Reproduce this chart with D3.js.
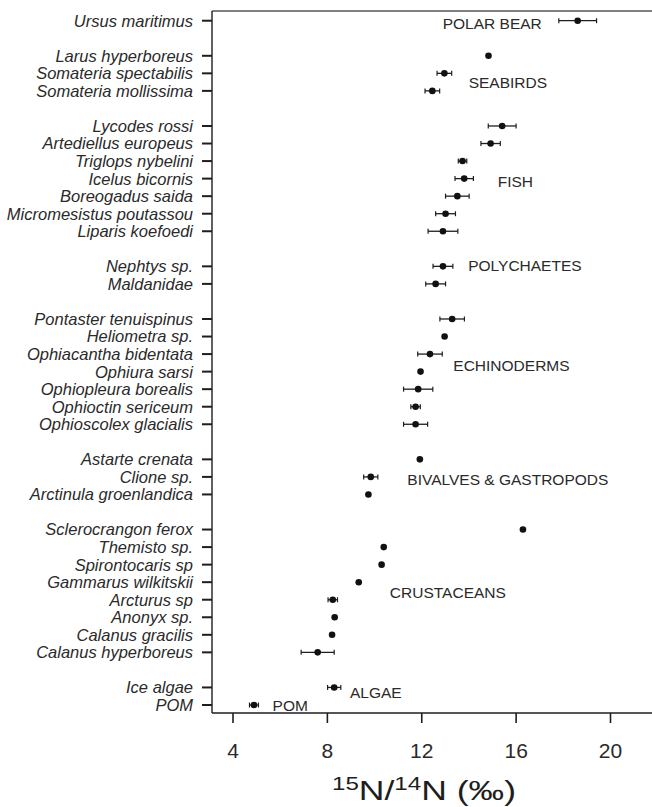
<!DOCTYPE html>
<html>
<head>
<meta charset="utf-8">
<script src="https://cdn.jsdelivr.net/npm/d3@7/dist/d3.min.js"></script>
<style>
html,body{margin:0;padding:0;background:#fff;}
svg{display:block;}
</style>
</head>
<body>
<svg id="chart" width="652" height="807"></svg>
<script>
// ---------- DATA ----------
const species = [
  "Ursus maritimus",
  "Larus hyperboreus","Somateria spectabilis","Somateria mollissima",
  "Lycodes rossi","Artediellus europeus","Triglops nybelini","Icelus bicornis","Boreogadus saida","Micromesistus poutassou","Liparis koefoedi",
  "Nephtys sp.","Maldanidae",
  "Pontaster tenuispinus","Heliometra sp.","Ophiacantha bidentata","Ophiura sarsi","Ophiopleura borealis","Ophioctin sericeum","Ophioscolex glacialis",
  "Astarte crenata","Clione sp.","Arctinula groenlandica",
  "Sclerocrangon ferox","Themisto sp.","Spirontocaris sp","Gammarus wilkitskii","Arcturus sp","Anonyx sp.","Calanus gracilis","Calanus hyperboreus",
  "Ice algae","POM"
];
// blocks of rows (a blank row separates consecutive blocks)
const block = [
  "POLAR BEAR",
  "SEABIRDS","SEABIRDS","SEABIRDS",
  "FISH","FISH","FISH","FISH","FISH","FISH","FISH",
  "POLYCHAETES","POLYCHAETES",
  "ECHINODERMS","ECHINODERMS","ECHINODERMS","ECHINODERMS","ECHINODERMS","ECHINODERMS","ECHINODERMS",
  "BIVALVES","BIVALVES","BIVALVES",
  "CRUSTACEANS","CRUSTACEANS","CRUSTACEANS","CRUSTACEANS","CRUSTACEANS","CRUSTACEANS","CRUSTACEANS","CRUSTACEANS",
  "BASE","BASE"
];
const delta15N = [
  18.63,
  14.85,12.98,12.47,
  15.43,14.94,13.75,13.82,13.53,13.03,12.92,
  12.92,12.61,
  13.31,12.99,12.37,11.97,11.87,11.76,11.76,
  11.94,9.86,9.76,
  16.31,10.41,10.32,9.35,8.25,8.33,8.22,7.61,
  8.31,4.91
];
const stdErr = [
  0.8,
  null,0.31,0.31,
  0.59,0.41,0.18,0.39,0.5,0.42,0.63,
  0.42,0.42,
  0.52,null,0.52,null,0.62,0.2,0.51,
  null,0.3,null,
  null,null,null,null,0.2,null,null,0.7,
  0.28,0.19
];
const xTicks = [4, 8, 12, 16, 20];
// group annotation labels, anchored in data units (value, row)
const groupLabels = ["POLAR BEAR","SEABIRDS","FISH","POLYCHAETES","ECHINODERMS","BIVALVES & GASTROPODS","CRUSTACEANS","ALGAE","POM"];
const groupLabelValue = [12.91, 14.01, 15.24, 13.99, 13.36, 11.41, 10.67, 8.98, 5.70];
const groupLabelRow  = [0.13, 3.51, 9.17, 13.96, 19.62, 26.17, 32.59, 38.27, 39.03];

// ---------- LAYOUT ----------
const ink = "#1e1e1e";
const svg = d3.select("#chart");

const rows = [];
let r = 0;
species.forEach((s, i) => {
  if (i > 0 && block[i] !== block[i - 1]) r += 1;
  rows.push(r);
  r += 1;
});
const nRows = rows[rows.length - 1];

const x = d3.scaleLinear().domain([4, 20]).range([232.5, 610]);
const y = d3.scaleLinear().domain([0, nRows]).range([20.7, 705]);

const frameLeft = 212, frameTop = 11, frameBottom = 713, frameRight = 652;

svg.append("line").attr("x1", frameLeft).attr("x2", frameRight).attr("y1", frameTop).attr("y2", frameTop)
  .attr("stroke", "#555").attr("stroke-width", 1.3);

// left axis
const yAxisG = svg.append("g");
yAxisG.append("line").attr("x1", frameLeft).attr("x2", frameLeft).attr("y1", frameTop).attr("y2", frameBottom)
  .attr("stroke", ink).attr("stroke-width", 1.4);
yAxisG.selectAll("line.tick").data(species).enter().append("line")
  .attr("class", "tick")
  .attr("x1", frameLeft - 10).attr("x2", frameLeft)
  .attr("y1", (d, i) => y(rows[i])).attr("y2", (d, i) => y(rows[i]))
  .attr("stroke", ink).attr("stroke-width", 2);
yAxisG.selectAll("text").data(species).enter().append("text")
  .attr("x", 193).attr("y", (d, i) => y(rows[i]))
  .attr("dy", "0.36em")
  .attr("text-anchor", "end")
  .attr("font-family", "Liberation Sans, Arial, sans-serif")
  .attr("font-style", "italic")
  .attr("font-size", "16.5px")
  .attr("fill", "#2a2a2a")
  .text(d => d);

// bottom axis
const xAxis = d3.axisBottom(x).tickValues(xTicks).tickSize(10).tickPadding(20).tickFormat(d3.format("d"));
const xg = svg.append("g").attr("transform", `translate(0,${frameBottom})`).call(xAxis);
xg.select(".domain").remove();
xg.append("line").attr("x1", frameLeft).attr("x2", frameRight).attr("y1", 0).attr("y2", 0)
  .attr("stroke", ink).attr("stroke-width", 1.4);
xg.selectAll(".tick line").attr("stroke", ink).attr("stroke-width", 1.6);
xg.selectAll(".tick text")
  .attr("font-family", "Liberation Sans, Arial, sans-serif")
  .attr("font-size", "21px")
  .attr("fill", "#2a2a2a");

// axis title
const title = svg.append("text")
  .attr("x", 332).attr("y", 800)
  .attr("font-family", "Liberation Sans, Arial, sans-serif")
  .attr("fill", "#1e1e1e")
  .attr("textLength", 184).attr("lengthAdjust", "spacingAndGlyphs");
title.append("tspan").attr("font-size", "19px").attr("dy", "-10").text("15");
title.append("tspan").attr("font-size", "28px").attr("dy", "10").text("N/");
title.append("tspan").attr("font-size", "19px").attr("dy", "-10").text("14");
title.append("tspan").attr("font-size", "28px").attr("dy", "10").text("N (‰)");

// error bars
const pts = species.map((s, i) => ({ s, v: delta15N[i], e: stdErr[i], row: rows[i] }));
const eb = svg.append("g").selectAll("g").data(pts.filter(d => d.e !== null)).enter().append("g");
eb.append("line")
  .attr("x1", d => x(d.v - d.e)).attr("x2", d => x(d.v + d.e))
  .attr("y1", d => y(d.row)).attr("y2", d => y(d.row))
  .attr("stroke", ink).attr("stroke-width", 1.3);
eb.append("line")
  .attr("x1", d => x(d.v - d.e)).attr("x2", d => x(d.v - d.e))
  .attr("y1", d => y(d.row) - 2.5).attr("y2", d => y(d.row) + 2.5)
  .attr("stroke", ink).attr("stroke-width", 1.2);
eb.append("line")
  .attr("x1", d => x(d.v + d.e)).attr("x2", d => x(d.v + d.e))
  .attr("y1", d => y(d.row) - 2.5).attr("y2", d => y(d.row) + 2.5)
  .attr("stroke", ink).attr("stroke-width", 1.2);

// points
svg.append("g").selectAll("circle").data(pts).enter().append("circle")
  .attr("cx", d => x(d.v)).attr("cy", d => y(d.row)).attr("r", 3.3)
  .attr("fill", "#111");

// group labels
svg.append("g").selectAll("text").data(groupLabels).enter().append("text")
  .attr("x", (d, i) => x(groupLabelValue[i]))
  .attr("y", (d, i) => y(groupLabelRow[i]))
  .attr("dy", "0.36em")
  .attr("font-family", "Liberation Sans, Arial, sans-serif")
  .attr("font-size", "15.5px")
  .attr("fill", "#2a2a2a")
  .text(d => d);
</script>
</body>
</html>
